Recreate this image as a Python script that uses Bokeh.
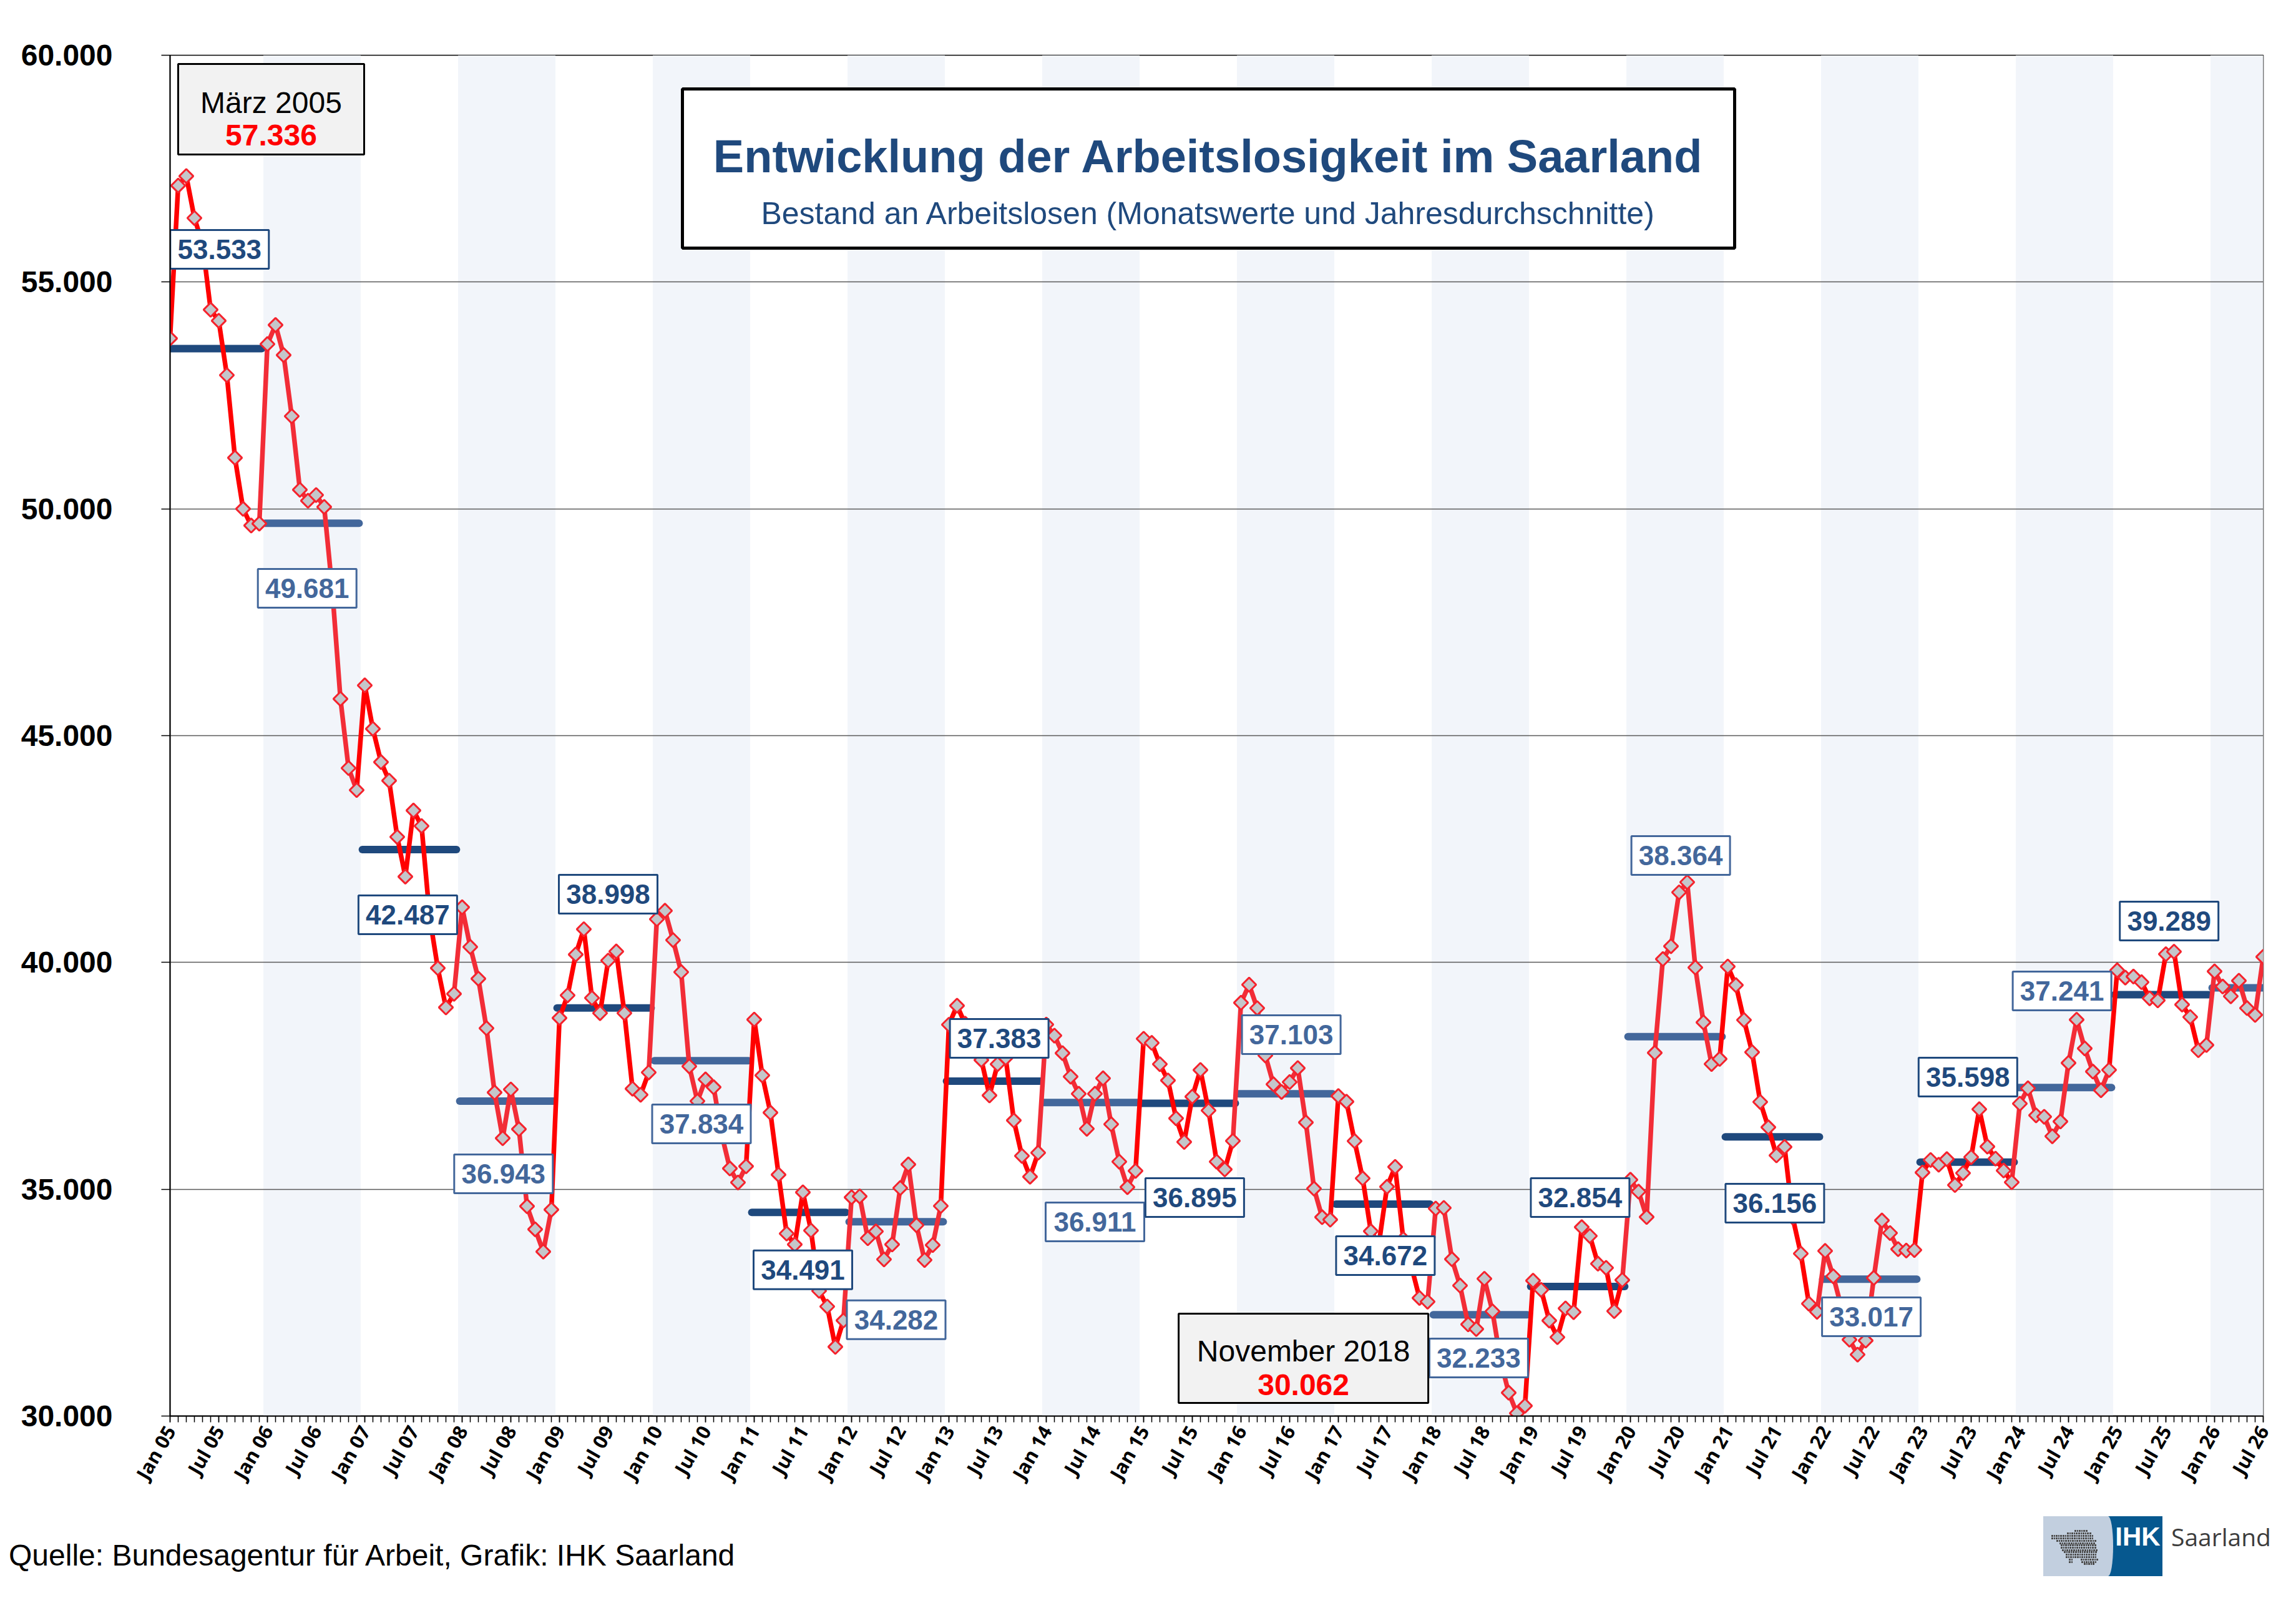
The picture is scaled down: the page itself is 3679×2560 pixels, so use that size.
import math
from bokeh.plotting import figure
from bokeh.layouts import column
from bokeh.models import Range1d, FixedTicker, Div
from bokeh.core.properties import value
from bokeh.embed import file_html
from bokeh.resources import INLINE

# Bestand an Arbeitslosen im Saarland, Monatswerte Jan 2005 - Jul 2026
y2005 = [53758, 57126, 57336, 56411, 55850, 54390, 54147, 52947, 51126, 50000, 49632, 49674]
y2006 = [53632, 54053, 53390, 52042, 50421, 50179, 50305, 50042, 48200, 45811, 44285, 43800]
y2007 = [46108, 45150, 44417, 44008, 42767, 41892, 43350, 43008, 41000, 39875, 39008, 39308]
y2008 = [41217, 40342, 39642, 38550, 37133, 36125, 37200, 36325, 34625, 34117, 33625, 34550]
y2009 = [38775, 39275, 40175, 40733, 39217, 38883, 40042, 40242, 38883, 37217, 37083, 37575]
y2010 = [40955, 41140, 40493, 39788, 37709, 36943, 37421, 37250, 36200, 35458, 35150, 35506]
y2011 = [38741, 37510, 36689, 35321, 34022, 33782, 34932, 34090, 32760, 32415, 31525, 32107]
y2012 = [34822, 34843, 33919, 34070, 33454, 33782, 35027, 35547, 34207, 33440, 33769, 34631]
y2013 = [38628, 39047, 38650, 38368, 37850, 37068, 37758, 37895, 36517, 35735, 35276, 35804]
y2014 = [38631, 38387, 38001, 37482, 37105, 36333, 37105, 37445, 36434, 35607, 35046, 35404]
y2015 = [38318, 38226, 37758, 37399, 36563, 36043, 37041, 37629, 36737, 35607, 35437, 36066]
y2016 = [39111, 39510, 38993, 37950, 37315, 37144, 37363, 37671, 36473, 35014, 34384, 34329]
y2017 = [37055, 36931, 36062, 35240, 34075, 33800, 35055, 35493, 33900, 33300, 32603, 32521]
y2018 = [34575, 34589, 33459, 32877, 32021, 31918, 33027, 32308, 31213, 30514, 30062, 30226]
y2019 = [32985, 32783, 32104, 31738, 32373, 32291, 34164, 33970, 33358, 33268, 32313, 32999]
y2020 = [35209, 34948, 34388, 38007, 40075, 40358, 41545, 41769, 39888, 38679, 37761, 37873]
y2021 = [39910, 39500, 38731, 38022, 36925, 36366, 35746, 35933, 34382, 33582, 32477, 32298]
y2022 = [33640, 33082, 32400, 31684, 31355, 31663, 33046, 34312, 34035, 33679, 33648, 33660]
y2023 = [35369, 35645, 35541, 35664, 35092, 35356, 35707, 36764, 35940, 35676, 35412, 35154]
y2024 = [36887, 37225, 36629, 36598, 36168, 36493, 37784, 38737, 38104, 37594, 37182, 37630]
y2025 = [39826, 39666, 39689, 39565, 39209, 39163, 40183, 40238, 39071, 38797, 38065, 38179]
y2026 = [39803, 39469, 39254, 39597, 38994, 38843, 40124]

years = list(range(2005, 2027))
monthly = (y2005 + y2006 + y2007 + y2008 + y2009 + y2010 + y2011 + y2012 + y2013 + y2014 + y2015
           + y2016 + y2017 + y2018 + y2019 + y2020 + y2021 + y2022 + y2023 + y2024 + y2025 + y2026)

# Jahresdurchschnitte (2026: laufendes Jahr, ohne Beschriftung)
annual_avg = [53533, 49681, 42487, 36943, 38998, 37834, 34491, 34282, 37383, 36911, 36895,
              37103, 34672, 32233, 32854, 38364, 36156, 33017, 35598, 37241, 39289, 39440]

x_tick_labels = ["Jan 05", "Jul 05", "Jan 06", "Jul 06", "Jan 07", "Jul 07", "Jan 08", "Jul 08",
                 "Jan 09", "Jul 09", "Jan 10", "Jul 10", "Jan 11", "Jul 11", "Jan 12", "Jul 12",
                 "Jan 13", "Jul 13", "Jan 14", "Jul 14", "Jan 15", "Jul 15", "Jan 16", "Jul 16",
                 "Jan 17", "Jul 17", "Jan 18", "Jul 18", "Jan 19", "Jul 19", "Jan 20", "Jul 20",
                 "Jan 21", "Jul 21", "Jan 22", "Jul 22", "Jan 23", "Jul 23", "Jan 24", "Jul 24",
                 "Jan 25", "Jul 25", "Jan 26", "Jul 26"]
y_ticks = [30000, 35000, 40000, 45000, 50000, 55000, 60000]
y_tick_labels = ["30.000", "35.000", "40.000", "45.000", "50.000", "55.000", "60.000"]

max_month, max_text = 2, "März 2005"
min_month, min_text = 166, "November 2018"
source_text = "Quelle: Bundesagentur für Arbeit, Grafik: IHK Saarland"

# where the boxes with the yearly averages sit (month, value)
avg_label_x = [6.1, 16.9, 29.3, 41.1, 54.0, 65.5, 78.0, 89.5, 102.2, 114.0, 126.3,
               138.2, 149.8, 161.3, 173.8, 186.2, 197.8, 209.7, 221.6, 233.2, 246.4]
avg_label_y = [55720, 48248, 41052, 35340, 41505, 36441, 33222, 32121, 38327, 34281, 34817,
               38409, 33537, 31281, 34817, 42359, 34694, 32189, 37474, 39373, 40914]

DARK = "#1F497D"
LIGHT = "#43679B"
RED = "#FF0000"
RED2 = "#F22D37"
BAND = "#F2F5FA"
FONT = value("Liberation Sans")


def de(v):
    return f"{v:,}".replace(",", ".")


n = len(monthly)
last = n - 1

p = figure(width=3660, height=2392, output_backend="svg", toolbar_location=None,
           x_range=Range1d(0, last), y_range=Range1d(30000, 60000),
           min_border_left=272, min_border_right=34, min_border_top=88, min_border_bottom=124)
p.background_fill_color = "white"
p.border_fill_color = "white"
p.outline_line_color = "black"
p.outline_line_width = 1.5
p.xgrid.grid_line_color = None
p.ygrid.grid_line_color = "#595959"
p.ygrid.grid_line_width = 1.3
p.ygrid.ticker = FixedTicker(ticks=y_ticks)

# shaded even years
band_l, band_r = [], []
for k, yr in enumerate(years):
    if k % 2 == 1:
        band_l.append(12 * k - 0.5)
        band_r.append(12 * k + 11.5)
bands = p.quad(left=band_l, right=band_r, bottom=30000, top=60000,
               fill_color=BAND, line_color=None)
bands.level = "image"

# yearly averages
seg_x0 = [max(12 * k - 0.3, 0) for k in range(len(years))]
seg_x1 = [min(12 * k + 11.3, last) for k in range(len(years))]
avg_cols = [DARK if k % 2 == 0 else LIGHT for k in range(len(years))]
p.segment(x0=seg_x0, y0=annual_avg, x1=seg_x1, y1=annual_avg,
          line_color=avg_cols, line_width=12, line_cap="round")

# monthly line, one piece per year
xs_list, ys_list, line_cols = [], [], []
for k in range(len(years)):
    start = max(12 * k - 1, 0)
    end = min(12 * k + 12, n)
    xs_list.append(list(range(start, end)))
    ys_list.append(monthly[start:end])
    line_cols.append(RED if k % 2 == 0 else RED2)
p.multi_line(xs=xs_list, ys=ys_list, line_color=line_cols, line_width=7.5, line_join="round")

p.scatter(x=list(range(n)), y=monthly, marker="square", angle=math.pi / 4, size=16,
          fill_color="#C4C6CA", line_color="#F5222C", line_width=3)

# average labels
nl = len(avg_label_x)
lab_cols = avg_cols[:nl]
p.rect(x=avg_label_x, y=avg_label_y, width=158, height=62, width_units="screen",
       height_units="screen", fill_color="white", line_color=lab_cols, line_width=3)
p.text(x=avg_label_x, y=avg_label_y, text=[de(v) for v in annual_avg[:nl]],
       text_font=FONT, text_font_style="bold", text_font_size="44px",
       text_color=lab_cols, text_align="center", text_baseline="middle")

# title box
p.rect(x=[128.0], y=[57502], width=1686, height=255, width_units="screen", height_units="screen",
       fill_color="white", line_color="black", line_width=5)
p.text(x=[128.0], y=[57771], text=["Entwicklung der Arbeitslosigkeit im Saarland"],
       text_font=FONT, text_font_style="bold", text_font_size="74px", text_color=DARK,
       text_align="center", text_baseline="alphabetic")
p.text(x=[128.0], y=[56505], text=["Bestand an Arbeitslosen (Monatswerte und Jahresdurchschnitte)"],
       text_font=FONT, text_font_size="50px", text_color=DARK,
       text_align="center", text_baseline="alphabetic")

# max / min boxes
for bx, by, bw, bh, t1y, t2y, label, m in [
        (12.46, 58810, 298, 145, 58954, 58239, max_text, max_month),
        (139.7, 31273, 400, 143, 31431, 30688, min_text, min_month)]:
    p.rect(x=[bx], y=[by], width=bw, height=bh, width_units="screen", height_units="screen",
           fill_color="#F2F2F2", line_color="black", line_width=3)
    p.text(x=[bx], y=[t1y], text=[label], text_font=FONT, text_font_size="48px",
           text_color="black", text_align="center", text_baseline="alphabetic")
    p.text(x=[bx], y=[t2y], text=[de(monthly[m])], text_font=FONT, text_font_style="bold",
           text_font_size="48px", text_color=RED, text_align="center", text_baseline="alphabetic")

# axes
p.xaxis.ticker = FixedTicker(ticks=list(range(0, n, 6)), minor_ticks=list(range(0, n)))
p.xaxis.major_label_overrides = {i * 6: lab for i, lab in enumerate(x_tick_labels)}
p.xaxis.major_label_orientation = math.radians(60)
p.xaxis.major_label_text_font = "Open Sans"
p.xaxis.major_label_text_font_style = "bold"
p.xaxis.major_label_text_font_size = "31px"
p.xaxis.major_label_text_color = "black"
p.xaxis.major_label_standoff = 8
p.xaxis.major_tick_in = 0
p.xaxis.major_tick_out = 10
p.xaxis.minor_tick_in = 0
p.xaxis.minor_tick_out = 10
p.xaxis.major_tick_line_width = 1.5
p.xaxis.minor_tick_line_width = 1.5
p.xaxis.major_tick_line_color = "black"
p.xaxis.minor_tick_line_color = "black"
p.xaxis.axis_line_width = 2
p.xaxis.axis_line_color = "black"

p.yaxis.ticker = FixedTicker(ticks=y_ticks)
p.yaxis.major_label_overrides = dict(zip(y_ticks, y_tick_labels))
p.yaxis.major_label_text_font = "Liberation Sans"
p.yaxis.major_label_text_font_style = "bold"
p.yaxis.major_label_text_font_size = "48px"
p.yaxis.major_label_text_color = "black"
p.yaxis.major_label_standoff = 78
p.yaxis.major_tick_in = 0
p.yaxis.major_tick_out = 14
p.yaxis.major_tick_line_width = 1.5
p.yaxis.major_tick_line_color = "black"
p.yaxis.minor_tick_line_color = None
p.yaxis.axis_line_width = 2
p.yaxis.axis_line_color = "black"

# footer (source line and IHK logo), positions in px inside the footer
map_rows = [(22, [(3324, 3342)]), (26, [(3312, 3350)]), (30, [(3287, 3354)]),
            (34, [(3287, 3355)]), (38, [(3295, 3357)]), (42, [(3300, 3357)]),
            (45, [(3302, 3357)]), (49, [(3302, 3359)]), (53, [(3304, 3359)]),
            (56, [(3307, 3360)]), (60, [(3310, 3360)]), (64, [(3310, 3357)]),
            (68, [(3315, 3322), (3334, 3360)]), (72, [(3315, 3322), (3335, 3359)]),
            (75, [(3339, 3355)])]
dots = []
for ty, parts in map_rows:
    for a, b in parts:
        px = a
        while px <= b:
            dots.append(f'<div style="position:absolute;left:{px:.1f}px;top:{37 + ty}px;'
                        f'width:2.5px;height:2.5px;background:#4D4D4D"></div>')
            px += 3.6

footer_html = (
    '<div style="position:relative;width:3660px;height:150px;background:white">'
    f'<div style="position:absolute;left:14px;top:76px;font-family:\'Liberation Sans\';'
    f'font-size:48px;line-height:48px;color:black;white-space:nowrap">{source_text}</div>'
    '<div style="position:absolute;left:3370px;top:37px;width:95px;height:96px;background:#06588F"></div>'
    '<div style="position:absolute;left:3274px;top:37px;width:112px;height:96px;background:#C2CFDF;'
    'border-top-right-radius:8px 48px;border-bottom-right-radius:8px 48px"></div>'
    + "".join(dots) +
    '<div style="position:absolute;left:3386px;top:49px;width:79px;text-align:center;'
    'font-family:\'Liberation Sans\';font-weight:bold;font-size:42px;line-height:42px;'
    'color:white">IHK</div>'
    '<div style="position:absolute;left:3479px;top:50px;font-family:\'Open Sans\';'
    'font-size:39px;line-height:39px;color:#3C3C3C;white-space:nowrap">Saarland</div>'
    '</div>'
)
foot = Div(text=footer_html, width=3660, height=150, margin=0)

page = column(p, foot, spacing=0)
open("out.html", "w").write(file_html(page, INLINE))
